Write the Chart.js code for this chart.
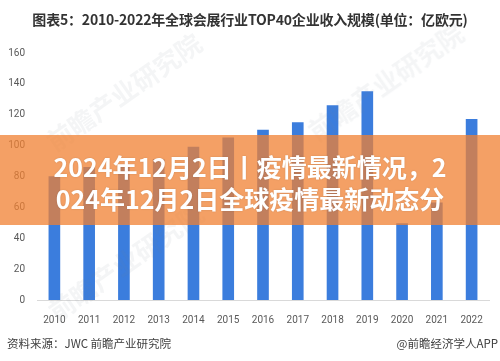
<!DOCTYPE html>
<html>
<head>
<meta charset="utf-8">
<script src="https://cdn.jsdelivr.net/npm/chart.js@4/dist/chart.umd.min.js"></script>
<style>
  html, body { margin: 0; padding: 0; background: #fff; }
  #wrap { position: relative; width: 500px; height: 361px; overflow: hidden; font-family: "Noto Sans CJK SC", sans-serif; }
  #c { position: absolute; left: 0; top: 0; }
  .title { position: absolute; left: 0; width: 500px; top: 9px; text-align: center; font-size: 14px; font-weight: bold; color: #333; letter-spacing: -0.2px; }
  .foot { position: absolute; top: 335px; font-size: 11.5px; color: #404040; }
  .wm { position: absolute; color: rgba(120,130,140,0.08); font-size: 26px; font-weight: bold; transform: rotate(-35deg); transform-origin: left top; white-space: nowrap; }
  .banner { position: absolute; left: 0; top: 135px; width: 500px; height: 90px; background: rgba(240,128,50,0.75); }
  .banner div { position: absolute; left: 0; width: 500px; text-align: center; color: #fff; font-size: 25px; font-weight: bold; line-height: 32px; text-shadow: 0 0 2px rgba(0,0,0,0.15); }
</style>
</head>
<body>
<div id="wrap">
  <canvas id="c" width="500" height="361"></canvas>
  <div class="wm" style="left:38px; top:128px;">前瞻产业研究院</div>
  <div class="wm" style="left:300px; top:118px;">前瞻产业研究院</div>
  <div class="wm" style="left:40px; top:298px;">前瞻产业研究院</div>
  <div class="title">图表5：2010-2022年全球会展行业TOP40企业收入规模(单位：亿欧元)</div>
  <div class="banner">
    <div style="top:15px;">2024年12月2日丨疫情最新情况，2</div>
    <div style="top:47px;">024年12月2日全球疫情最新动态分</div>
  </div>
  <div class="foot" style="left:7px;">资料来源：JWC 前瞻产业研究院</div>
  <div class="foot" style="right:2px;">@前瞻经济学人APP</div>
</div>
<script>
const categories = ['2010','2011','2012','2013','2014','2015','2016','2017','2018','2019','2020','2021','2022'];
const revenue = [80, 86, 87, 91, 99, 105, 110, 115, 126, 135, 49.5, 63, 117];
const yMax = 160;
const yStep = 20;

new Chart(document.getElementById('c'), {
  type: 'bar',
  data: {
    labels: categories,
    datasets: [{
      data: revenue,
      backgroundColor: '#3B7DDD',
      borderWidth: 0,
      barThickness: 11
    }]
  },
  options: {
    responsive: false,
    animation: false,
    layout: { padding: { left: 7, right: 11, top: 53, bottom: 29 } },
    plugins: { legend: { display: false }, tooltip: { enabled: false }, title: { display: false } },
    scales: {
      x: {
        grid: { display: false },
        border: { display: true, color: '#d9d9d9', width: 1 },
        ticks: { color: '#595959', font: { family: 'Roboto', size: 10 }, padding: 6, maxRotation: 0 }
      },
      y: {
        min: 0, max: yMax,
        grid: { display: false },
        border: { display: false },
        ticks: { stepSize: yStep, color: '#595959', font: { family: 'Roboto', size: 10 }, padding: 4 },
        afterFit: (s) => { s.width = 30; }
      }
    }
  }
});
</script>
</body>
</html>
